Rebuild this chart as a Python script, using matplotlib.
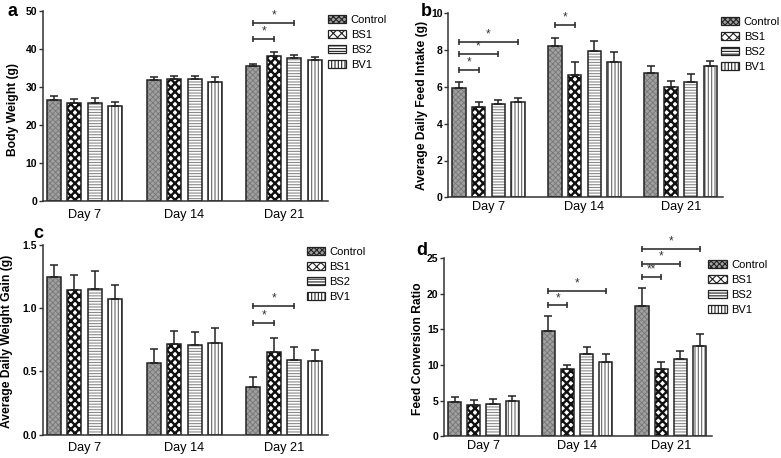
import matplotlib
matplotlib.use("Agg")
import matplotlib.pyplot as plt
import numpy as np
from matplotlib.patches import Patch

plt.rcParams['font.family'] = ['Liberation Sans', 'DejaVu Sans']
plt.rcParams['hatch.linewidth'] = 0.8

days = ["Day 7", "Day 14", "Day 21"]
groups = ["Control", "BS1", "BS2", "BV1"]

# a - body weight (g)
bw_mean = [[26.6, 31.7, 35.4], [25.7, 32.0, 38.2], [25.7, 32.0, 37.6], [25.0, 31.4, 37.0]]
bw_err = [[0.9, 0.8, 0.7], [1.0, 0.9, 0.9], [1.3, 0.9, 0.9], [1.0, 1.1, 0.9]]
bw_sig = [(2, 1, 42.5, "*"), (2, 2, 46.9, "*")]

# b - average daily feed intake (g)
fi_mean = [[5.95, 8.24, 6.73], [4.93, 6.65, 6.02], [5.05, 7.96, 6.27], [5.18, 7.36, 7.11]]
fi_err = [[0.32, 0.40, 0.42], [0.25, 0.70, 0.29], [0.26, 0.51, 0.42], [0.22, 0.55, 0.29]]
fi_sig = [(0, 1, 6.91, "*"), (0, 2, 7.78, "*"), (0, 3, 8.45, "*"), (1, 1, 9.36, "*")]

# c - average daily weight gain (g)
wg_mean = [[1.242, 0.568, 0.379], [1.142, 0.716, 0.655], [1.147, 0.708, 0.589], [1.071, 0.721, 0.579]]
wg_err = [[0.095, 0.106, 0.074], [0.121, 0.100, 0.106], [0.143, 0.100, 0.103], [0.109, 0.118, 0.092]]
wg_sig = [(2, 1, 0.882, "*"), (2, 2, 1.016, "*")]

# d - feed conversion ratio
fcr_mean = [[4.8, 14.8, 18.27], [4.44, 9.49, 9.4], [4.5, 11.5, 10.9], [4.9, 10.47, 12.66]]
fcr_err = [[0.76, 2.0, 2.53], [0.61, 0.51, 1.07], [0.7, 1.0, 1.1], [0.8, 1.07, 1.74]]
fcr_sig = [(1, 1, 18.36, "*"), (1, 3, 20.37, "*"),
           (2, 1, 22.4, "**"), (2, 2, 24.2, "*"), (2, 3, 26.3, "*")]

# face, hatch, hatch colour, hatch width
styles = [("#a0a0a0", "xxxxxx", "#777777", 0.6),
          ("white", "xxxx", "#111111", 1.7),
          ("white", "------", "#8a8a8a", 0.8),
          ("white", "|||||", "#666666", 0.8)]

W, H = 781, 458
pitch = 0.205
width = 0.14
x = np.arange(len(days))


def px(l, t, r, b):
    return [l / W, 1 - b / H, (r - l) / W, (b - t) / H]


def draw(ax, means, errs, sig, yticks, fmt, star_dy, xpad):
    for i in range(len(groups)):
        face, hatch, hcol, hlw = styles[i]
        xs = x + (i - 1.5) * pitch
        with plt.rc_context({"hatch.linewidth": hlw}):
            ax.bar(xs, means[i], width, color=face, hatch=hatch, edgecolor=hcol, linewidth=0)
        ax.bar(xs, means[i], width, fill=False, edgecolor="#222222", linewidth=1.1)
        ax.errorbar(xs, means[i], yerr=[np.zeros(len(days)), errs[i]], fmt="none",
                    ecolor="#222222", elinewidth=1.1, capsize=2.9, capthick=1.1)
    for g, j, yv, lab in sig:
        x1 = g - 1.5 * pitch
        x2 = g + (j - 1.5) * pitch
        ax.plot([x1, x2], [yv, yv], color="#333333", lw=1.2, marker="|",
                markersize=5, mew=1.2, clip_on=False)
        ax.text((x1 + x2) / 2, yv + star_dy, lab, ha="center", va="center",
                fontsize=8.5, color="#333333", clip_on=False)
    ax.set_xlim(-0.42, 2.44)
    ax.set_ylim(0, yticks[-1])
    ax.set_yticks(yticks)
    ax.set_yticklabels([fmt % t for t in yticks], fontweight="bold", fontsize=7.5)
    ax.set_xticks(x)
    ax.set_xticklabels(days, fontsize=9.2)
    ax.tick_params(axis="x", length=0, pad=xpad)
    ax.tick_params(axis="y", length=3, width=1, pad=1, color="#333333")
    for s in ["top", "right"]:
        ax.spines[s].set_visible(False)
    for s in ["left", "bottom"]:
        ax.spines[s].set_linewidth(1.1)
        ax.spines[s].set_color("#333333")


fig = plt.figure(figsize=(W / 100, H / 100), dpi=100)

ax_a = fig.add_axes(px(42.7, 11, 328, 200.7))
draw(ax_a, bw_mean, bw_err, bw_sig, [0, 10, 20, 30, 40, 50], "%d", 2.0, 6)
ax_b = fig.add_axes(px(448, 13.3, 723, 197.3))
draw(ax_b, fi_mean, fi_err, fi_sig, [0, 2, 4, 6, 8, 10], "%d", 0.42, 3)
ax_c = fig.add_axes(px(42.7, 244.7, 328, 434.7))
draw(ax_c, wg_mean, wg_err, wg_sig, [0.0, 0.5, 1.0, 1.5], "%.1f", 0.06, 5)
ax_d = fig.add_axes(px(444, 258, 712, 436.3))
draw(ax_d, fcr_mean, fcr_err, fcr_sig, [0, 5, 10, 15, 20, 25], "%d", 1.0, 3)

handles = []
for s in styles:
    with plt.rc_context({"hatch.linewidth": s[3] * 0.8}):
        handles.append(Patch(facecolor=s[0], hatch=s[1], edgecolor="#222222", linewidth=0.9))
for ax, lx, ty in [(ax_a, 328, 14.5), (ax_b, 721, 16.5), (ax_c, 306.7, 246.5), (ax_d, 708.3, 259.5)]:
    ax.legend(handles, groups, loc="upper left", bbox_to_anchor=(lx / W, 1 - ty / H),
              bbox_transform=fig.transFigure, frameon=False, fontsize=8,
              handlelength=1.65, handleheight=0.78, handletextpad=0.4,
              labelspacing=0.45, borderpad=0, borderaxespad=0)

ylabels = [("Body Weight (g)", 13, 109), ("Average Daily Feed Intake (g)", 421.7, 105),
           ("Average Daily Weight Gain (g)", 7, 341), ("Feed Conversion Ratio", 418, 348.7)]
for txt, lx, ly in ylabels:
    fig.text(lx / W, 1 - ly / H, txt, rotation=90, ha="center", va="center",
             fontsize=8.7, fontweight="bold")

for lab, lx, ly in [("a", 13, 12), ("b", 426.7, 11), ("c", 38, 233), ("d", 421.7, 250)]:
    fig.text(lx / W, 1 - ly / H, lab, ha="center", va="center", fontsize=13, fontweight="bold")

fig.savefig("out.png", dpi=100)
